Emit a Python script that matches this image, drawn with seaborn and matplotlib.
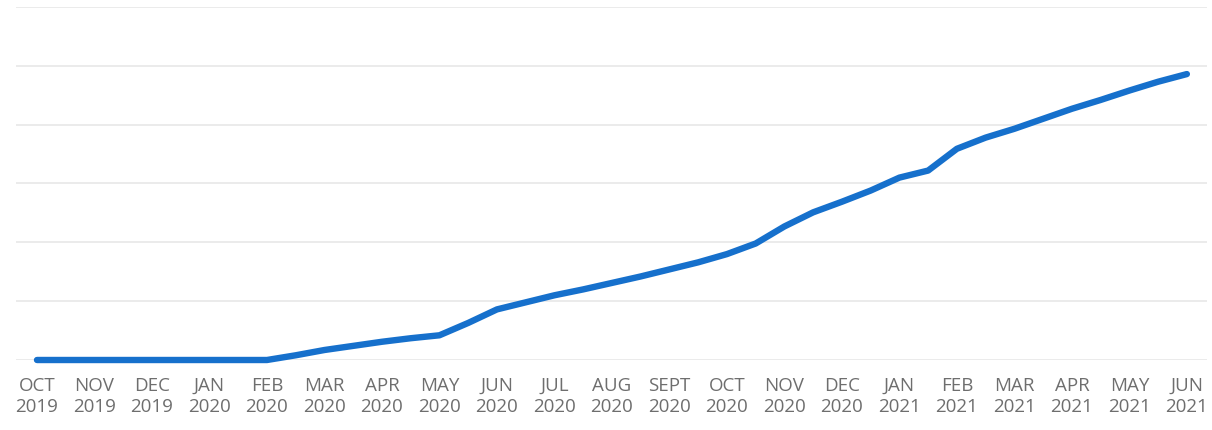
import numpy as np
import pandas as pd
import matplotlib
matplotlib.use('Agg')
import matplotlib.pyplot as plt
import seaborn as sns

# month tick labels, Oct 2019 .. Jun 2021
months = ['OCT', 'NOV', 'DEC', 'JAN', 'FEB', 'MAR', 'APR', 'MAY', 'JUN', 'JUL', 'AUG',
          'SEPT', 'OCT', 'NOV', 'DEC', 'JAN', 'FEB', 'MAR', 'APR', 'MAY', 'JUN']
years = ['2019', '2019', '2019', '2020', '2020', '2020', '2020', '2020', '2020', '2020', '2020',
         '2020', '2020', '2020', '2020', '2021', '2021', '2021', '2021', '2021', '2021']

# values every half month (gridline = 1 unit)
values = [0, 0, 0, 0, 0, 0, 0, 0, 0,
          0.08, 0.17, 0.24, 0.31, 0.37, 0.42, 0.63, 0.86, 0.98,
          1.10, 1.20, 1.31, 1.42, 1.54, 1.66, 1.80, 1.98, 2.27,
          2.51, 2.69, 2.88, 3.10, 3.22, 3.59, 3.78, 3.93, 4.10,
          4.27, 4.42, 4.58, 4.73, 4.86]

df = pd.DataFrame({'month': np.arange(len(values)) / 2, 'value': values})

sns.set_theme(style='whitegrid')
plt.rcParams['font.family'] = ['Open Sans', 'DejaVu Sans']

fig = plt.figure(figsize=(12.12, 4.3), dpi=100)
ax = fig.add_axes([16 / 1212, 70 / 430, 1191 / 1212, 353 / 430])

sns.lineplot(data=df, x='month', y='value', ax=ax, color='#1670cc', linewidth=4.6,
             solid_capstyle='round', solid_joinstyle='round', clip_on=False)

ax.set_xlim(-0.365, 20.35)
ax.set_ylim(0, 6)
ax.set_yticks(np.arange(0, 7, 1))
ax.set_yticklabels([])
ax.set_xticks(np.arange(len(months)))
ax.set_xticklabels([f'{m}\n{y}' for m, y in zip(months, years)], fontsize=13.5,
                   color='#6e6e6e', linespacing=1.25)
ax.tick_params(axis='x', length=0, pad=12)
ax.tick_params(axis='y', length=0)
ax.grid(axis='x', visible=False)
ax.grid(axis='y', color='#e8e8e8', linewidth=1.2)
ax.set_xlabel('')
ax.set_ylabel('')
for s in ax.spines.values():
    s.set_visible(False)

plt.savefig('out.png', dpi=100)
plt.close()
